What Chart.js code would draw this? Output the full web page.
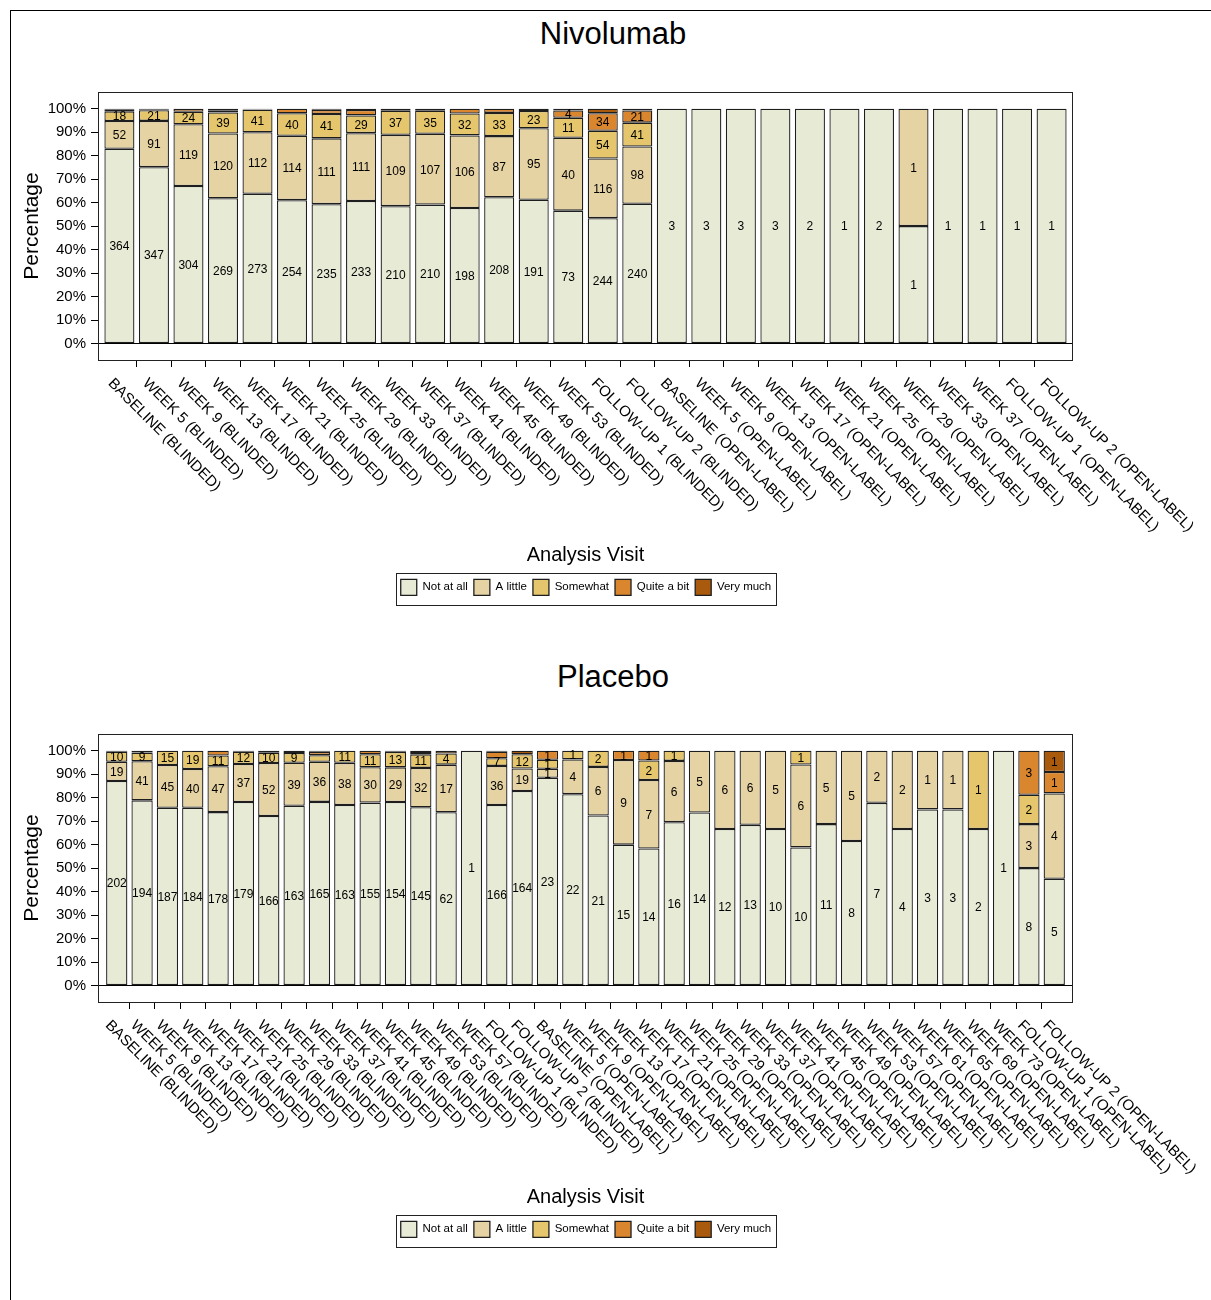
<!DOCTYPE html>
<html>
<head>
<meta charset="utf-8">
<script src="https://cdn.jsdelivr.net/npm/chart.js@4.4.1/dist/chart.umd.min.js"></script>
<style>
  html, body { margin: 0; padding: 0; background: #fff; width: 1211px; height: 1300px; overflow: hidden;
               font-family: "Liberation Sans", Arial, sans-serif; }
  #page { position: absolute; left: 10px; top: 10px; width: 1300px; height: 1400px;
          border-left: 1px solid #000; border-top: 1px solid #000; }
  .ttl { position: absolute; left: 413px; width: 400px; text-align: center; font-size: 31px;
         line-height: 31px; color: #000; }
  canvas { position: absolute; left: 0; }
</style>
</head>
<body>
<div id="page"></div>
<div class="ttl" style="top:18px">Nivolumab</div>
<canvas id="nivoChart" width="1211" height="560" style="top:60px"></canvas>
<div class="ttl" style="top:661px">Placebo</div>
<canvas id="placeboChart" width="1211" height="560" style="top:702px"></canvas>

<script>
const FONT = '"Liberation Sans", Arial, sans-serif';

// Response categories and their fill colours
const responses = ['Not at all', 'A little', 'Somewhat', 'Quite a bit', 'Very much'];
const responseColours = ['#E7EBD5', '#E6D3A4', '#E5C66C', '#D9862F', '#A95A0C'];
const yTickValues = [0, 10, 20, 30, 40, 50, 60, 70, 80, 90, 100];

// ---- Nivolumab arm ----
const nivoVisits = [
  'BASELINE (BLINDED)', 'WEEK 5 (BLINDED)', 'WEEK 9 (BLINDED)', 'WEEK 13 (BLINDED)', 'WEEK 17 (BLINDED)',
  'WEEK 21 (BLINDED)', 'WEEK 25 (BLINDED)', 'WEEK 29 (BLINDED)', 'WEEK 33 (BLINDED)', 'WEEK 37 (BLINDED)',
  'WEEK 41 (BLINDED)', 'WEEK 45 (BLINDED)', 'WEEK 49 (BLINDED)', 'WEEK 53 (BLINDED)',
  'FOLLOW-UP 1 (BLINDED)', 'FOLLOW-UP 2 (BLINDED)',
  'BASELINE (OPEN-LABEL)', 'WEEK 5 (OPEN-LABEL)', 'WEEK 9 (OPEN-LABEL)', 'WEEK 13 (OPEN-LABEL)',
  'WEEK 17 (OPEN-LABEL)', 'WEEK 21 (OPEN-LABEL)', 'WEEK 25 (OPEN-LABEL)', 'WEEK 29 (OPEN-LABEL)',
  'WEEK 33 (OPEN-LABEL)', 'WEEK 37 (OPEN-LABEL)', 'FOLLOW-UP 1 (OPEN-LABEL)', 'FOLLOW-UP 2 (OPEN-LABEL)'
];
const nivoNotAtAll  = [364, 347, 304, 269, 273, 254, 235, 233, 210, 210, 198, 208, 191, 73, 244, 240, 3, 3, 3, 3, 2, 1, 2, 1, 1, 1, 1, 1];
const nivoALittle   = [52, 91, 119, 120, 112, 114, 111, 111, 109, 107, 106, 87, 95, 40, 116, 98, 0, 0, 0, 0, 0, 0, 0, 1, 0, 0, 0, 0];
const nivoSomewhat  = [18, 21, 24, 39, 41, 40, 41, 29, 37, 35, 32, 33, 23, 11, 54, 41, 0, 0, 0, 0, 0, 0, 0, 0, 0, 0, 0, 0];
const nivoQuiteABit = [3, 2, 6, 4, 1, 8, 7, 9, 3, 3, 7, 6, 3, 4, 34, 21, 0, 0, 0, 0, 0, 0, 0, 0, 0, 0, 0, 0];
const nivoVeryMuch  = [2, 1, 0, 3, 1, 0, 2, 2, 0, 0, 0, 0, 0, 1, 9, 3, 0, 0, 0, 0, 0, 0, 0, 0, 0, 0, 0, 0];

// ---- Placebo arm ----
const placeboVisits = [
  'BASELINE (BLINDED)', 'WEEK 5 (BLINDED)', 'WEEK 9 (BLINDED)', 'WEEK 13 (BLINDED)', 'WEEK 17 (BLINDED)',
  'WEEK 21 (BLINDED)', 'WEEK 25 (BLINDED)', 'WEEK 29 (BLINDED)', 'WEEK 33 (BLINDED)', 'WEEK 37 (BLINDED)',
  'WEEK 41 (BLINDED)', 'WEEK 45 (BLINDED)', 'WEEK 49 (BLINDED)', 'WEEK 53 (BLINDED)', 'WEEK 57 (BLINDED)',
  'FOLLOW-UP 1 (BLINDED)', 'FOLLOW-UP 2 (BLINDED)',
  'BASELINE (OPEN-LABEL)', 'WEEK 5 (OPEN-LABEL)', 'WEEK 9 (OPEN-LABEL)', 'WEEK 13 (OPEN-LABEL)',
  'WEEK 17 (OPEN-LABEL)', 'WEEK 21 (OPEN-LABEL)', 'WEEK 25 (OPEN-LABEL)', 'WEEK 29 (OPEN-LABEL)',
  'WEEK 33 (OPEN-LABEL)', 'WEEK 37 (OPEN-LABEL)', 'WEEK 41 (OPEN-LABEL)', 'WEEK 45 (OPEN-LABEL)',
  'WEEK 49 (OPEN-LABEL)', 'WEEK 53 (OPEN-LABEL)', 'WEEK 57 (OPEN-LABEL)', 'WEEK 61 (OPEN-LABEL)',
  'WEEK 65 (OPEN-LABEL)', 'WEEK 69 (OPEN-LABEL)', 'WEEK 73 (OPEN-LABEL)',
  'FOLLOW-UP 1 (OPEN-LABEL)', 'FOLLOW-UP 2 (OPEN-LABEL)'
];
const plcNotAtAll  = [202, 194, 187, 184, 178, 179, 166, 163, 165, 163, 155, 154, 145, 62, 1, 166, 164,
                      23, 22, 21, 15, 14, 16, 14, 12, 13, 10, 10, 11, 8, 7, 4, 3, 3, 2, 1, 8, 5];
const plcALittle   = [19, 41, 45, 40, 47, 37, 52, 39, 36, 38, 30, 29, 32, 17, 0, 36, 19,
                      1, 4, 6, 9, 7, 6, 5, 6, 6, 5, 6, 5, 5, 2, 2, 1, 1, 0, 0, 3, 4];
const plcSomewhat  = [10, 9, 15, 19, 11, 12, 10, 9, 6, 11, 11, 13, 11, 4, 0, 7, 12,
                      1, 1, 2, 0, 2, 1, 0, 0, 0, 0, 1, 0, 0, 0, 0, 0, 0, 1, 0, 2, 0];
const plcQuiteABit = [0, 0, 0, 0, 5, 1, 2, 2, 3, 0, 3, 1, 2, 1, 0, 6, 0,
                      1, 0, 0, 1, 1, 0, 0, 0, 0, 0, 0, 0, 0, 0, 0, 0, 0, 0, 0, 3, 1];
const plcVeryMuch  = [1, 2, 0, 0, 0, 0, 0, 0, 1, 0, 0, 0, 1, 0, 0, 1, 3,
                      0, 0, 0, 0, 0, 0, 0, 0, 0, 0, 0, 0, 0, 0, 0, 0, 0, 0, 0, 0, 1];

// Plot frame around the chart area
const plotFrame = {
  id: 'plotFrame',
  afterDatasetsDraw(chart) {
    const {ctx, chartArea: a} = chart;
    ctx.save();
    ctx.strokeStyle = '#222';
    ctx.lineWidth = 1;
    ctx.strokeRect(Math.round(a.left) + 0.5, Math.round(a.top) + 0.5,
                   Math.round(a.right - a.left) - 1, Math.round(a.bottom - a.top));
    ctx.restore();
  }
};

// Counts printed inside each segment large enough to hold them
const countLabels = {
  id: 'countLabels',
  afterDatasetsDraw(chart) {
    const ctx = chart.ctx;
    ctx.save();
    ctx.font = '12px ' + FONT;
    ctx.fillStyle = '#000';
    ctx.textAlign = 'center';
    ctx.textBaseline = 'middle';
    chart.data.datasets.forEach((ds, k) => {
      const meta = chart.getDatasetMeta(k);
      meta.data.forEach((bar, i) => {
        const pt = ds.data[i];
        if (!pt.count || pt.y < 3) return;
        const {x, y, base} = bar.getProps(['x', 'y', 'base'], true);
        ctx.fillText(String(pt.count), x, (y + base) / 2 + 1);
      });
    });
    ctx.restore();
  }
};

// Visit names under the axis, slanted downwards to the right
const visitLabels = {
  id: 'visitLabels',
  afterDraw(chart, args, opts) {
    const {ctx, chartArea} = chart;
    const xs = chart.scales.x;
    ctx.save();
    ctx.font = '15px ' + FONT;
    ctx.fillStyle = '#000';
    ctx.textAlign = 'left';
    ctx.textBaseline = 'alphabetic';
    opts.names.forEach((name, i) => {
      const x = xs.getPixelForValue(i);
      ctx.save();
      ctx.translate(x - 12, chartArea.bottom + 24);
      ctx.rotate(Math.PI / 4);
      ctx.fillText(name, 0, 0);
      ctx.restore();
    });
    ctx.restore();
  }
};

// Box drawn around the legend entries
const legendFrame = {
  id: 'legendFrame',
  afterDraw(chart) {
    const hb = chart.legend && chart.legend.legendHitBoxes;
    if (!hb || !hb.length) return;
    const ctx = chart.ctx;
    const l = Math.min(...hb.map(h => h.left)) - 4.5;
    const r = Math.max(...hb.map(h => h.left + h.width)) + 4.5;
    const t = hb[0].top - 6.5;
    const b = hb[0].top + hb[0].height + 9;
    ctx.save();
    ctx.strokeStyle = '#222';
    ctx.lineWidth = 1;
    ctx.strokeRect(Math.round(l) + 0.5, Math.round(t) + 0.5, Math.round(r - l), Math.round(b - t));
    ctx.restore();
  }
};

function buildChart(canvasId, visits, series, sidePad, barPct) {
  const n = visits.length;
  const totals = visits.map((_, i) => series.reduce((s, arr) => s + arr[i], 0));
  const datasets = series.map((counts, k) => ({
    label: responses[k],
    data: counts.map((c, i) => ({x: i, y: c > 0 ? c / totals[i] * 100 : null, count: c})),
    backgroundColor: responseColours[k],
    borderColor: '#1e1e1e',
    borderWidth: 1.3,
    borderSkipped: false,
    barPercentage: barPct,
    categoryPercentage: 1
  }));

  return new Chart(document.getElementById(canvasId), {
    type: 'bar',
    data: {datasets},
    plugins: [plotFrame, countLabels, visitLabels, legendFrame],
    options: {
      responsive: false,
      animation: false,
      devicePixelRatio: 1,
      layout: {padding: {top: 32, bottom: 14.7, left: 0, right: 39}},
      plugins: {
        legend: {
          position: 'bottom',
          labels: {boxWidth: 16, boxHeight: 16, padding: 6, color: '#000',
                   font: {family: FONT, size: 11.5}}
        },
        tooltip: {enabled: false},
        visitLabels: {names: visits}
      },
      scales: {
        x: {
          type: 'linear',
          stacked: true,
          offset: false,
          min: -0.5 - sidePad,
          max: n - 0.5 + sidePad,
          afterBuildTicks: s => { s.ticks = visits.slice(1).map((_, i) => ({value: i + 0.5})); },
          grid: {offset: false, drawOnChartArea: false, drawTicks: true, tickLength: 7,
                 tickColor: '#000', tickWidth: 1},
          border: {display: false},
          ticks: {display: false},
          title: {display: true, text: 'Analysis Visit', color: '#000',
                  font: {family: FONT, size: 20}, padding: {top: 0, bottom: 6.3}},
          afterFit: s => { s.height = 213.3; }
        },
        y: {
          type: 'linear',
          stacked: true,
          min: -7.0,
          max: 107.1,
          afterBuildTicks: s => { s.ticks = yTickValues.map(v => ({value: v})); },
          ticks: {color: '#000', font: {family: FONT, size: 15}, padding: 5,
                  callback: v => v + '%'},
          grid: {drawTicks: true, tickLength: 7, tickColor: '#000', lineWidth: 1,
                 color: c => (c.tick && c.tick.value === 0) ? '#000' : 'rgba(0,0,0,0)'},
          border: {display: false},
          title: {display: true, text: 'Percentage', color: '#000',
                  font: {family: FONT, size: 21}, padding: {top: 20, bottom: 0}},
          afterFit: s => { s.width = 98; }
        },
        spacer: {
          type: 'linear',
          position: 'right',
          display: true,
          grid: {display: false},
          border: {display: false},
          ticks: {display: false},
          afterFit: s => { s.width = 99; }
        }
      }
    }
  });
}

buildChart('nivoChart', nivoVisits,
           [nivoNotAtAll, nivoALittle, nivoSomewhat, nivoQuiteABit, nivoVeryMuch], 0.12, 0.87);
buildChart('placeboChart', placeboVisits,
           [plcNotAtAll, plcALittle, plcSomewhat, plcQuiteABit, plcVeryMuch], 0.24, 0.84);
</script>
</body>
</html>
